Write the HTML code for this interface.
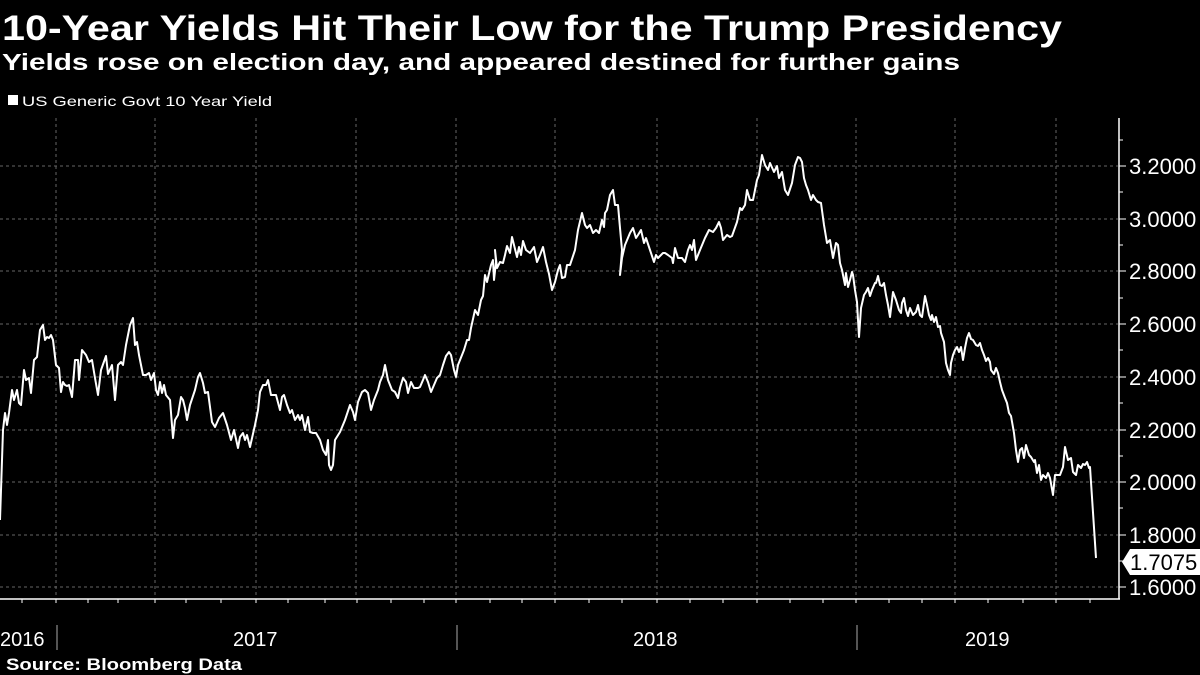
<!DOCTYPE html>
<html><head><meta charset="utf-8"><style>
html,body{margin:0;padding:0;background:#000;}
svg{display:block;}
text{font-family:"Liberation Sans",sans-serif;fill:#fff;}
</style></head><body>
<svg width="1200" height="675" viewBox="0 0 1200 675">
<rect width="1200" height="675" fill="#000"/>
<text x="2" y="40" font-size="35" font-weight="bold" textLength="1060" lengthAdjust="spacingAndGlyphs">10-Year Yields Hit Their Low for the Trump Presidency</text>
<text x="2" y="70" font-size="23" font-weight="bold" textLength="958" lengthAdjust="spacingAndGlyphs">Yields rose on election day, and appeared destined for further gains</text>
<rect x="8" y="95" width="10" height="10" fill="#fff"/>
<text x="22" y="106" font-size="14" textLength="250" lengthAdjust="spacingAndGlyphs">US Generic Govt 10 Year Yield</text>
<g stroke="#666" stroke-width="1" stroke-dasharray="3,3">
<line x1="0" y1="166" x2="1118" y2="166"/><line x1="0" y1="219" x2="1118" y2="219"/><line x1="0" y1="271" x2="1118" y2="271"/><line x1="0" y1="324" x2="1118" y2="324"/><line x1="0" y1="377" x2="1118" y2="377"/><line x1="0" y1="430" x2="1118" y2="430"/><line x1="0" y1="482" x2="1118" y2="482"/><line x1="0" y1="535" x2="1118" y2="535"/><line x1="0" y1="587" x2="1118" y2="587"/>
<line x1="56" y1="118" x2="56" y2="598"/><line x1="155" y1="118" x2="155" y2="598"/><line x1="256" y1="118" x2="256" y2="598"/><line x1="356" y1="118" x2="356" y2="598"/><line x1="456" y1="118" x2="456" y2="598"/><line x1="555" y1="118" x2="555" y2="598"/><line x1="657" y1="118" x2="657" y2="598"/><line x1="757" y1="118" x2="757" y2="598"/><line x1="856" y1="118" x2="856" y2="598"/><line x1="955" y1="118" x2="955" y2="598"/><line x1="1056" y1="118" x2="1056" y2="598"/>
</g>
<g stroke="#fff" stroke-width="1.5">
<line x1="0" y1="599" x2="1120" y2="599"/>
<line x1="1119" y1="118" x2="1119" y2="599"/>
</g>
<g stroke="#fff" stroke-width="1">
<path d="M22 599v4M56 599v4M88 599v4M118 599v4M155 599v4M186 599v4M221 599v4M256 599v4M288 599v4M325 599v4M357 599v4M391 599v4M424 599v4M456 599v4M490 599v4M522 599v4M555 599v4M589 599v4M622 599v4M657 599v4M690 599v4M723 599v4M757 599v4M790 599v4M823 599v4M856 599v4M889 599v4M922 599v4M955 599v4M988 599v4M1023 599v4M1056 599v4M1090 599v4"/>
<path d="M1119 166h7M1119 219h7M1119 271h7M1119 324h7M1119 377h7M1119 430h7M1119 482h7M1119 535h7M1119 587h7M1119 140h4M1119 192h4M1119 245h4M1119 298h4M1119 350h4M1119 403h4M1119 456h4M1119 508h4M1119 561h4"/>
<path d="M57 625v25M457 625v25M857 625v25" stroke="#aaa"/>
</g>
<g font-size="22">
<text x="1129" y="174">3.2000</text><text x="1129" y="227">3.0000</text><text x="1129" y="279">2.8000</text><text x="1129" y="332">2.6000</text><text x="1129" y="385">2.4000</text><text x="1129" y="438">2.2000</text><text x="1129" y="490">2.0000</text><text x="1129" y="543">1.8000</text><text x="1129" y="595">1.6000</text>
</g>
<polygon points="1122,562 1130,549 1200,549 1200,575 1130,575" fill="#fff"/>
<text x="1130" y="570" font-size="22" style="fill:#000">1.7075</text>
<g font-size="20">
<text x="0" y="646">2016</text><text x="233" y="646">2017</text><text x="633" y="646">2018</text><text x="965" y="646">2019</text>
</g>
<text x="6" y="670" font-size="17" font-weight="bold" textLength="236" lengthAdjust="spacingAndGlyphs">Source: Bloomberg Data</text>
<polyline fill="none" stroke="#fff" stroke-width="2" stroke-linejoin="round" points="0,520 3,430 5,413 7,425 9,413 12,390 14,400 17,390 19,403 21,405 24,370 26,380 29,378 31,393 34,360 37,357 40,330 43,325 45,340 47,337 49,338 51,335 53,340 56,365 59,368 61,392 63,382 65,385 67,386 69,385 72,397 75,360 78,360 79,380 82,350 86,355 89,362 92,360 95,378 98,395 101,370 106,356 108,374 112,365 115,400 118,365 121,362 123,365 126,345 130,325 133,318 135,345 137,342 139,355 141,365 143,375 146,375 149,373 151,380 154,373 156,390 158,395 160,382 162,393 164,385 166,395 170,400 173,438 175,420 178,415 181,397 183,400 185,408 187,420 190,405 195,390 198,377 200,373 203,383 205,393 208,392 212,422 215,427 219,418 223,413 227,425 231,440 234,430 238,448 240,437 243,433 245,440 247,435 250,447 255,425 258,410 260,392 263,385 266,385 268,380 271,395 273,395 276,395 280,410 282,397 284,395 287,405 290,413 292,410 295,420 298,415 300,420 302,415 305,430 308,417 310,432 313,433 316,433 320,440 323,450 326,455 328,440 329,465 331,470 333,465 335,440 340,432 345,420 350,405 353,412 355,420 358,402 362,392 365,390 368,393 371,410 374,400 378,390 380,382 383,375 385,365 388,380 392,390 395,392 398,398 400,388 403,378 406,382 408,393 411,382 414,388 418,388 420,387 423,380 425,375 428,382 431,392 434,385 437,378 440,375 443,365 446,356 449,352 451,355 454,370 456,377 458,365 462,355 464,350 467,340 469,340 471,328 475,310 478,315 481,300 483,296 485,275 487,282 491,265 493,260 494,280 496,262 495,250 497,268 500,262 503,263 505,255 507,246 510,253 512,237 514,245 517,257 519,247 521,255 523,241 526,250 530,253 534,247 537,262 540,255 543,247 546,262 549,274 552,290 555,282 558,270 560,265 562,278 565,277 567,265 570,265 575,250 578,230 582,213 585,225 587,228 590,225 593,233 596,230 599,233 602,220 604,227 605,213 607,210 610,195 613,190 615,205 618,205 620,228 622,250 620,275 622,258 625,245 630,233 633,228 636,238 638,235 641,230 644,243 646,238 650,250 654,262 656,255 658,258 661,255 663,253 665,253 668,255 672,258 673,263 675,248 678,258 682,258 685,262 688,250 690,245 692,250 694,240 696,260 700,250 705,238 709,230 713,232 716,228 719,222 721,228 723,240 727,235 730,237 732,236 737,222 740,208 742,210 745,205 747,190 750,200 753,200 755,190 757,180 759,175 762,155 765,165 768,170 770,163 774,172 777,166 779,178 782,172 785,190 788,195 792,183 795,165 798,157 800,158 802,162 804,178 806,185 808,190 811,200 813,195 816,200 818,202 821,203 824,225 827,243 830,240 833,258 836,243 838,245 840,263 842,270 845,285 846,273 848,287 850,280 852,272 853,275 855,290 857,302 859,337 861,308 864,295 866,292 868,288 870,296 872,290 875,283 876,283 878,276 880,285 882,286 884,283 886,295 888,305 890,317 893,292 896,300 899,310 901,313 902,303 904,298 906,310 908,316 910,308 913,315 916,312 918,305 920,315 922,317 925,296 927,305 929,315 931,320 932,315 934,322 936,317 938,327 940,326 941,333 944,342 946,363 948,370 950,375 951,363 953,355 955,350 957,347 959,352 961,347 963,360 965,348 967,338 969,333 971,339 973,340 976,345 978,346 980,343 982,350 984,355 986,361 988,358 990,362 991,370 994,374 996,368 998,373 1000,382 1002,390 1005,398 1007,403 1009,413 1011,416 1014,433 1016,450 1018,462 1020,450 1022,448 1024,458 1026,445 1029,455 1031,457 1034,462 1035,460 1037,473 1039,465 1041,480 1043,475 1046,478 1048,473 1050,478 1053,495 1055,475 1060,475 1063,467 1065,447 1068,460 1071,458 1073,472 1076,475 1078,465 1081,468 1083,464 1085,465 1087,462 1089,468 1090,467 1096,558"/>
</svg>
</body></html>
